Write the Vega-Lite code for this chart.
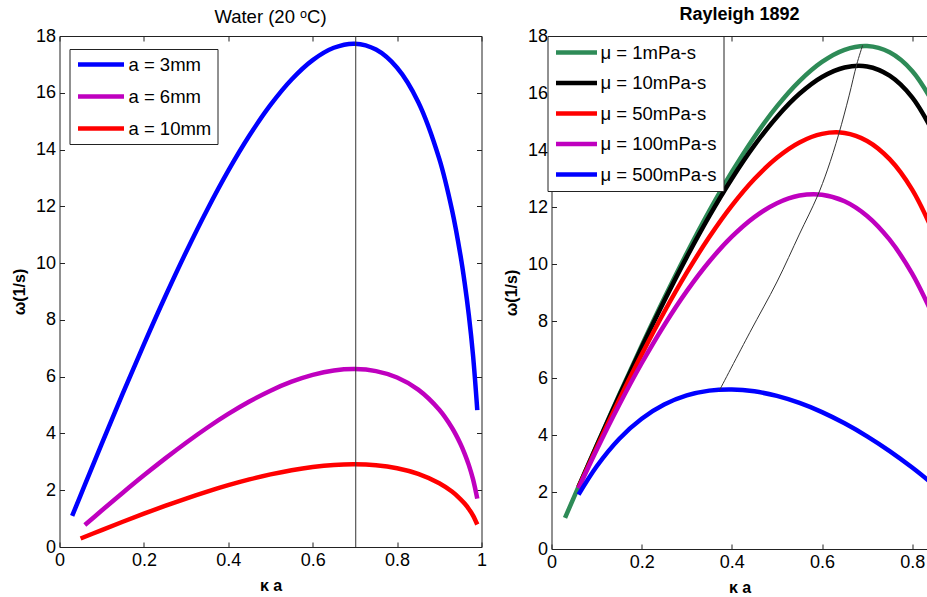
{
  "$schema": "https://vega.github.io/schema/vega-lite/v6.json",
  "padding": {"left": 10.5, "top": 5, "right": 0, "bottom": 0},
  "spacing": 15,
  "background": "white",
  "resolve": {"scale": {"color": "independent"}, "legend": {"color": "independent"}},
  "config": {
    "font": "Liberation Sans",
    "view": {"stroke": null},
    "axis": {"labelFontSize": 18, "labelColor": "black", "titleFontSize": 16, "titleFontWeight": "bold", "titleColor": "black", "tickColor": "#222", "domainColor": "#222", "grid": false, "labelFlush": false, "labelOverlap": false, "tickSize": -5, "labelPadding": 9},
    "title": {"color": "black", "font": "Liberation Sans"},
    "legend": {"labelFontSize": 18.5, "labelColor": "black", "labelFont": "Liberation Sans", "symbolType": "stroke", "symbolStrokeWidth": 4.5, "strokeColor": "#222", "fillColor": "white", "title": null, "orient": "none"}
  },
  "datasets": {
    "water": [
      {"series": "a = 3mm", "x": 0.03, "y": 1.095}, {"series": "a = 3mm", "x": 0.06, "y": 2.187}, {"series": "a = 3mm", "x": 0.1, "y": 3.631}, {"series": "a = 3mm", "x": 0.15, "y": 5.408}, {"series": "a = 3mm", "x": 0.2, "y": 7.138}, {"series": "a = 3mm", "x": 0.25, "y": 8.805}, {"series": "a = 3mm", "x": 0.3, "y": 10.392}, {"series": "a = 3mm", "x": 0.35, "y": 11.882}, {"series": "a = 3mm", "x": 0.4, "y": 13.256}, {"series": "a = 3mm", "x": 0.45, "y": 14.493}, {"series": "a = 3mm", "x": 0.5, "y": 15.572}, {"series": "a = 3mm", "x": 0.55, "y": 16.468}, {"series": "a = 3mm", "x": 0.6, "y": 17.151}, {"series": "a = 3mm", "x": 0.65, "y": 17.586}, {"series": "a = 3mm", "x": 0.7, "y": 17.729}, {"series": "a = 3mm", "x": 0.75, "y": 17.522}, {"series": "a = 3mm", "x": 0.8, "y": 16.882}, {"series": "a = 3mm", "x": 0.85, "y": 15.677}, {"series": "a = 3mm", "x": 0.9, "y": 13.671}, {"series": "a = 3mm", "x": 0.93, "y": 11.877}, {"series": "a = 3mm", "x": 0.95, "y": 10.287}, {"series": "a = 3mm", "x": 0.96, "y": 9.312}, {"series": "a = 3mm", "x": 0.97, "y": 8.161}, {"series": "a = 3mm", "x": 0.98, "y": 6.742}, {"series": "a = 3mm", "x": 0.99, "y": 4.823},
      {"series": "a = 6mm", "x": 0.06, "y": 0.773}, {"series": "a = 6mm", "x": 0.1, "y": 1.284}, {"series": "a = 6mm", "x": 0.15, "y": 1.912}, {"series": "a = 6mm", "x": 0.2, "y": 2.524}, {"series": "a = 6mm", "x": 0.25, "y": 3.113}, {"series": "a = 6mm", "x": 0.3, "y": 3.674}, {"series": "a = 6mm", "x": 0.35, "y": 4.201}, {"series": "a = 6mm", "x": 0.4, "y": 4.687}, {"series": "a = 6mm", "x": 0.45, "y": 5.124}, {"series": "a = 6mm", "x": 0.5, "y": 5.506}, {"series": "a = 6mm", "x": 0.55, "y": 5.822}, {"series": "a = 6mm", "x": 0.6, "y": 6.064}, {"series": "a = 6mm", "x": 0.65, "y": 6.218}, {"series": "a = 6mm", "x": 0.7, "y": 6.268}, {"series": "a = 6mm", "x": 0.75, "y": 6.195}, {"series": "a = 6mm", "x": 0.8, "y": 5.969}, {"series": "a = 6mm", "x": 0.85, "y": 5.543}, {"series": "a = 6mm", "x": 0.9, "y": 4.833}, {"series": "a = 6mm", "x": 0.93, "y": 4.199}, {"series": "a = 6mm", "x": 0.95, "y": 3.637}, {"series": "a = 6mm", "x": 0.96, "y": 3.292}, {"series": "a = 6mm", "x": 0.97, "y": 2.885}, {"series": "a = 6mm", "x": 0.98, "y": 2.384}, {"series": "a = 6mm", "x": 0.99, "y": 1.705},
      {"series": "a = 10mm", "x": 0.05, "y": 0.3}, {"series": "a = 10mm", "x": 0.1, "y": 0.597}, {"series": "a = 10mm", "x": 0.15, "y": 0.889}, {"series": "a = 10mm", "x": 0.2, "y": 1.173}, {"series": "a = 10mm", "x": 0.25, "y": 1.447}, {"series": "a = 10mm", "x": 0.3, "y": 1.708}, {"series": "a = 10mm", "x": 0.35, "y": 1.952}, {"series": "a = 10mm", "x": 0.4, "y": 2.178}, {"series": "a = 10mm", "x": 0.45, "y": 2.382}, {"series": "a = 10mm", "x": 0.5, "y": 2.559}, {"series": "a = 10mm", "x": 0.55, "y": 2.706}, {"series": "a = 10mm", "x": 0.6, "y": 2.818}, {"series": "a = 10mm", "x": 0.65, "y": 2.890}, {"series": "a = 10mm", "x": 0.7, "y": 2.913}, {"series": "a = 10mm", "x": 0.75, "y": 2.879}, {"series": "a = 10mm", "x": 0.8, "y": 2.774}, {"series": "a = 10mm", "x": 0.85, "y": 2.576}, {"series": "a = 10mm", "x": 0.9, "y": 2.246}, {"series": "a = 10mm", "x": 0.93, "y": 1.952}, {"series": "a = 10mm", "x": 0.95, "y": 1.690}, {"series": "a = 10mm", "x": 0.96, "y": 1.530}, {"series": "a = 10mm", "x": 0.97, "y": 1.341}, {"series": "a = 10mm", "x": 0.98, "y": 1.108}, {"series": "a = 10mm", "x": 0.99, "y": 0.793}
    ],
    "marker": [{"x": 0.702}],
    "rayleigh": [
      {"series": "μ = 1mPa-s", "x": 0.03, "y": 1.095}, {"series": "μ = 1mPa-s", "x": 0.06, "y": 2.186}, {"series": "μ = 1mPa-s", "x": 0.1, "y": 3.629}, {"series": "μ = 1mPa-s", "x": 0.15, "y": 5.404}, {"series": "μ = 1mPa-s", "x": 0.2, "y": 7.131}, {"series": "μ = 1mPa-s", "x": 0.25, "y": 8.795}, {"series": "μ = 1mPa-s", "x": 0.3, "y": 10.377}, {"series": "μ = 1mPa-s", "x": 0.35, "y": 11.862}, {"series": "μ = 1mPa-s", "x": 0.4, "y": 13.229}, {"series": "μ = 1mPa-s", "x": 0.45, "y": 14.459}, {"series": "μ = 1mPa-s", "x": 0.5, "y": 15.530}, {"series": "μ = 1mPa-s", "x": 0.55, "y": 16.418}, {"series": "μ = 1mPa-s", "x": 0.6, "y": 17.091}, {"series": "μ = 1mPa-s", "x": 0.65, "y": 17.516}, {"series": "μ = 1mPa-s", "x": 0.7, "y": 17.647}, {"series": "μ = 1mPa-s", "x": 0.75, "y": 17.428}, {"series": "μ = 1mPa-s", "x": 0.8, "y": 16.775}, {"series": "μ = 1mPa-s", "x": 0.85, "y": 15.557},
      {"series": "μ = 10mPa-s", "x": 0.06, "y": 2.181}, {"series": "μ = 10mPa-s", "x": 0.1, "y": 3.614}, {"series": "μ = 10mPa-s", "x": 0.15, "y": 5.370}, {"series": "μ = 10mPa-s", "x": 0.2, "y": 7.071}, {"series": "μ = 10mPa-s", "x": 0.25, "y": 8.701}, {"series": "μ = 10mPa-s", "x": 0.3, "y": 10.243}, {"series": "μ = 10mPa-s", "x": 0.35, "y": 11.680}, {"series": "μ = 10mPa-s", "x": 0.4, "y": 12.992}, {"series": "μ = 10mPa-s", "x": 0.45, "y": 14.160}, {"series": "μ = 10mPa-s", "x": 0.5, "y": 15.161}, {"series": "μ = 10mPa-s", "x": 0.55, "y": 15.972}, {"series": "μ = 10mPa-s", "x": 0.6, "y": 16.562}, {"series": "μ = 10mPa-s", "x": 0.65, "y": 16.896}, {"series": "μ = 10mPa-s", "x": 0.7, "y": 16.932}, {"series": "μ = 10mPa-s", "x": 0.75, "y": 16.610}, {"series": "μ = 10mPa-s", "x": 0.8, "y": 15.849}, {"series": "μ = 10mPa-s", "x": 0.85, "y": 14.519},
      {"series": "μ = 50mPa-s", "x": 0.06, "y": 2.157}, {"series": "μ = 50mPa-s", "x": 0.1, "y": 3.550}, {"series": "μ = 50mPa-s", "x": 0.15, "y": 5.227}, {"series": "μ = 50mPa-s", "x": 0.2, "y": 6.820}, {"series": "μ = 50mPa-s", "x": 0.25, "y": 8.315}, {"series": "μ = 50mPa-s", "x": 0.3, "y": 9.695}, {"series": "μ = 50mPa-s", "x": 0.35, "y": 10.945}, {"series": "μ = 50mPa-s", "x": 0.4, "y": 12.047}, {"series": "μ = 50mPa-s", "x": 0.45, "y": 12.981}, {"series": "μ = 50mPa-s", "x": 0.5, "y": 13.730}, {"series": "μ = 50mPa-s", "x": 0.55, "y": 14.267}, {"series": "μ = 50mPa-s", "x": 0.6, "y": 14.567}, {"series": "μ = 50mPa-s", "x": 0.65, "y": 14.597}, {"series": "μ = 50mPa-s", "x": 0.7, "y": 14.317}, {"series": "μ = 50mPa-s", "x": 0.75, "y": 13.678}, {"series": "μ = 50mPa-s", "x": 0.8, "y": 12.609}, {"series": "μ = 50mPa-s", "x": 0.85, "y": 11.007},
      {"series": "μ = 100mPa-s", "x": 0.06, "y": 2.127}, {"series": "μ = 100mPa-s", "x": 0.1, "y": 3.470}, {"series": "μ = 100mPa-s", "x": 0.15, "y": 5.053}, {"series": "μ = 100mPa-s", "x": 0.2, "y": 6.518}, {"series": "μ = 100mPa-s", "x": 0.25, "y": 7.853}, {"series": "μ = 100mPa-s", "x": 0.3, "y": 9.048}, {"series": "μ = 100mPa-s", "x": 0.35, "y": 10.088}, {"series": "μ = 100mPa-s", "x": 0.4, "y": 10.958}, {"series": "μ = 100mPa-s", "x": 0.45, "y": 11.646}, {"series": "μ = 100mPa-s", "x": 0.5, "y": 12.133}, {"series": "μ = 100mPa-s", "x": 0.55, "y": 12.402}, {"series": "μ = 100mPa-s", "x": 0.6, "y": 12.433}, {"series": "μ = 100mPa-s", "x": 0.65, "y": 12.204}, {"series": "μ = 100mPa-s", "x": 0.7, "y": 11.687}, {"series": "μ = 100mPa-s", "x": 0.75, "y": 10.852}, {"series": "μ = 100mPa-s", "x": 0.8, "y": 9.660}, {"series": "μ = 100mPa-s", "x": 0.85, "y": 8.061},
      {"series": "μ = 500mPa-s", "x": 0.06, "y": 1.908}, {"series": "μ = 500mPa-s", "x": 0.1, "y": 2.896}, {"series": "μ = 500mPa-s", "x": 0.15, "y": 3.862}, {"series": "μ = 500mPa-s", "x": 0.2, "y": 4.571}, {"series": "μ = 500mPa-s", "x": 0.25, "y": 5.068}, {"series": "μ = 500mPa-s", "x": 0.3, "y": 5.388}, {"series": "μ = 500mPa-s", "x": 0.35, "y": 5.557}, {"series": "μ = 500mPa-s", "x": 0.4, "y": 5.599}, {"series": "μ = 500mPa-s", "x": 0.45, "y": 5.532}, {"series": "μ = 500mPa-s", "x": 0.5, "y": 5.371}, {"series": "μ = 500mPa-s", "x": 0.55, "y": 5.124}, {"series": "μ = 500mPa-s", "x": 0.6, "y": 4.803}, {"series": "μ = 500mPa-s", "x": 0.65, "y": 4.410}, {"series": "μ = 500mPa-s", "x": 0.7, "y": 3.954}, {"series": "μ = 500mPa-s", "x": 0.75, "y": 3.435}, {"series": "μ = 500mPa-s", "x": 0.8, "y": 2.858}, {"series": "μ = 500mPa-s", "x": 0.85, "y": 2.226}
    ],
    "peaks": [
      {"x": 0.373, "y": 5.58}, {"x": 0.44, "y": 7.6}, {"x": 0.5, "y": 9.37}, {"x": 0.55, "y": 11.05}, {"x": 0.589, "y": 12.35}, {"x": 0.612, "y": 13.3}, {"x": 0.637, "y": 14.55}, {"x": 0.66, "y": 15.9}, {"x": 0.677, "y": 17.0}, {"x": 0.69, "y": 17.67}
    ]
  },
  "hconcat": [
    {
      "width": 422,
      "height": 511,
      "title": {"text": "Water (20 ᵒC)", "fontWeight": "normal", "fontSize": 18.5, "offset": 0.5},
      "resolve": {"axis": {"x": "independent", "y": "independent"}},
      "layer": [
        {
          "data": {"name": "water"},
          "mark": {"type": "line", "strokeWidth": 4.5, "clip": true, "interpolate": "catmull-rom"},
          "encoding": {
            "x": {"field": "x", "type": "quantitative", "scale": {"domain": [0, 1], "nice": false}, "axis": {"orient": "bottom", "values": [0, 0.2, 0.4, 0.6, 0.8, 1], "format": "~g", "title": "κ a", "titlePadding": 8}},
            "y": {"field": "y", "type": "quantitative", "scale": {"domain": [0, 18], "nice": false}, "axis": {"orient": "left", "values": [0, 2, 4, 6, 8, 10, 12, 14, 16, 18], "format": "d", "title": "ω(1/s)", "titlePadding": 8}},
            "color": {"field": "series", "type": "nominal", "sort": null, "scale": {"domain": ["a = 3mm", "a = 6mm", "a = 10mm"], "range": ["#0000ff", "#bf00bf", "#ff0000"]}, "legend": {"legendX": 10, "legendY": 13, "symbolSize": 2116, "clipHeight": 19, "rowPadding": 13, "padding": 6, "labelOffset": 2}}
          }
        },
        {
          "data": {"name": "marker"},
          "mark": {"type": "rule", "color": "#333", "strokeWidth": 1},
          "encoding": {"x": {"field": "x", "type": "quantitative", "axis": null}}
        },
        {
          "data": {"name": "water"},
          "mark": {"type": "point", "opacity": 0},
          "encoding": {
            "x": {"field": "x", "type": "quantitative", "axis": {"orient": "top", "values": [0, 0.2, 0.4, 0.6, 0.8, 1], "labels": false, "title": null}},
            "y": {"field": "y", "type": "quantitative", "axis": {"orient": "right", "values": [0, 2, 4, 6, 8, 10, 12, 14, 16, 18], "labels": false, "title": null}}
          }
        }
      ]
    },
    {
      "width": 376,
      "height": 513,
      "title": {"text": "Rayleigh 1892", "fontWeight": "bold", "fontSize": 18, "offset": 3.5},
      "resolve": {"axis": {"x": "independent", "y": "independent"}},
      "layer": [
        {
          "data": {"name": "rayleigh"},
          "mark": {"type": "line", "strokeWidth": 4.5, "clip": true, "interpolate": "catmull-rom"},
          "encoding": {
            "x": {"field": "x", "type": "quantitative", "scale": {"domain": [0, 0.834], "nice": false}, "axis": {"orient": "bottom", "values": [0, 0.2, 0.4, 0.6, 0.8], "format": "~g", "title": "κ a", "titlePadding": 8}},
            "y": {"field": "y", "type": "quantitative", "scale": {"domain": [0, 18], "nice": false}, "axis": {"orient": "left", "values": [0, 2, 4, 6, 8, 10, 12, 14, 16, 18], "format": "d", "title": "ω(1/s)", "titlePadding": 8}},
            "color": {"field": "series", "type": "nominal", "sort": null, "scale": {"domain": ["μ = 1mPa-s", "μ = 10mPa-s", "μ = 50mPa-s", "μ = 100mPa-s", "μ = 500mPa-s"], "range": ["#2e8b57", "#000000", "#ff0000", "#bf00bf", "#0000ff"]}, "legend": {"legendX": -4, "legendY": 0, "symbolSize": 1681, "clipHeight": 21, "rowPadding": 9.5, "padding": 6, "labelOffset": 1}}
          }
        },
        {
          "data": {"name": "peaks"},
          "mark": {"type": "line", "color": "#333", "strokeWidth": 1, "clip": true, "interpolate": "catmull-rom"},
          "encoding": {
            "x": {"field": "x", "type": "quantitative", "axis": null},
            "y": {"field": "y", "type": "quantitative", "axis": null}
          }
        },
        {
          "data": {"name": "rayleigh"},
          "mark": {"type": "point", "opacity": 0, "clip": true},
          "encoding": {
            "x": {"field": "x", "type": "quantitative", "axis": {"orient": "top", "values": [0, 0.2, 0.4, 0.6, 0.8], "labels": false, "title": null}}
          }
        }
      ]
    }
  ]
}
